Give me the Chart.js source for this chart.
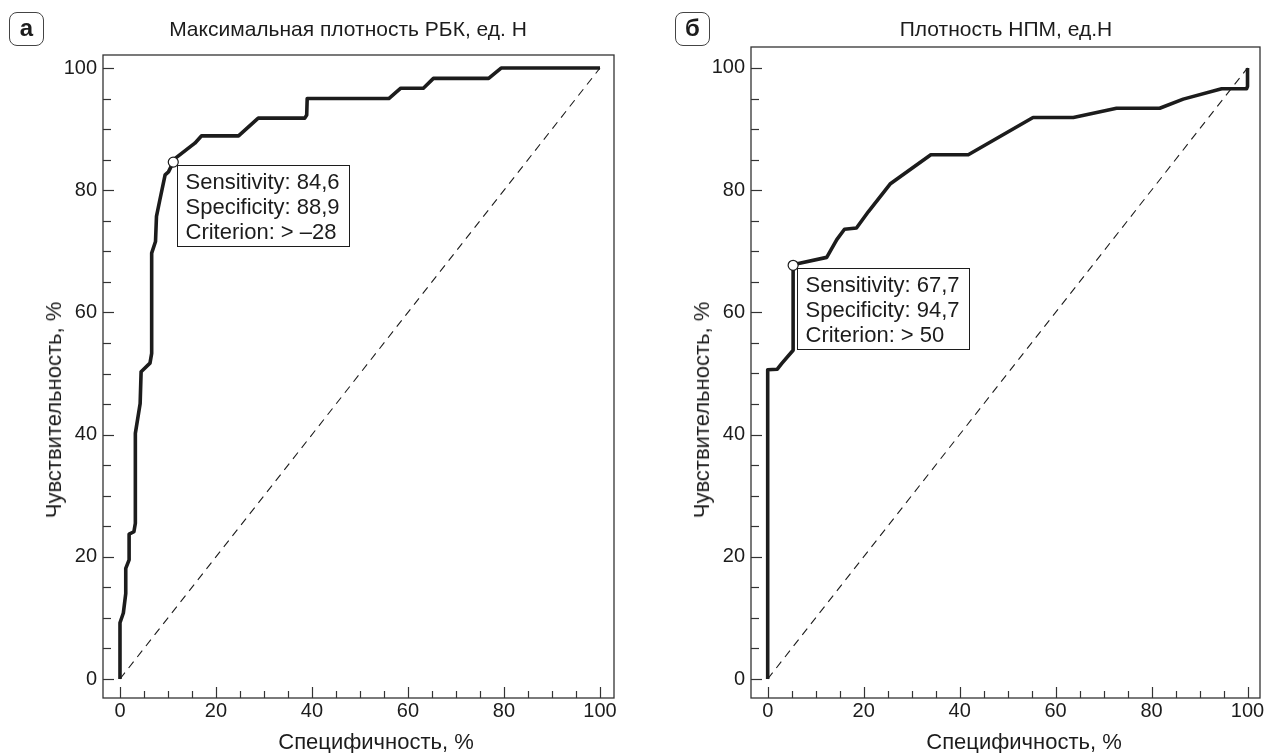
<!DOCTYPE html>
<html lang="ru">
<head>
<meta charset="utf-8">
<title>ROC</title>
<script src="https://cdn.jsdelivr.net/npm/chart.js@4.4.1/dist/chart.umd.min.js"></script>
<style>
  html, body { margin: 0; padding: 0; background: #fff; }
  body { width: 1269px; height: 753px; position: relative; overflow: hidden;
         font-family: "Liberation Sans", Arial, sans-serif; color: #1c1c1c; }
  .badge { position: absolute; top: 12px; width: 35px; height: 34px; box-sizing: border-box;
           border: 1.5px solid #444; border-radius: 8px; font-weight: bold; font-size: 24px;
           line-height: 30px; text-align: center; }
  .title { position: absolute; top: 17px; font-size: 21px; line-height: 24px; white-space: nowrap; transform: translateX(-50%); }
  .xt { position: absolute; top: 729px; font-size: 22px; line-height: 26px; white-space: nowrap; transform: translateX(-50%); }
  .yt { position: absolute; top: 410px; font-size: 22px; line-height: 26px; white-space: nowrap;
        transform: translate(-50%, -50%) rotate(-90deg); }
  .box { position: absolute; top: 0; height: 753px; }
</style>
</head>
<body>
<div class="box" style="left:0;width:634px"><canvas id="chartA"></canvas></div>
<div class="box" style="left:648px;width:621px"><canvas id="chartB"></canvas></div>
<div class="badge" style="left:9px">а</div>
<div class="title" style="left:348px">Максимальная плотность РБК, ед. Н</div>
<div class="xt" style="left:376px">Специфичность, %</div>
<div class="yt" style="left:54px">Чувствительность, %</div>
<div class="badge" style="left:675px">б</div>
<div class="title" style="left:1006px">Плотность НПМ, ед.Н</div>
<div class="xt" style="left:1024px">Специфичность, %</div>
<div class="yt" style="left:702px">Чувствительность, %</div>
<script>
// а: максимальная плотность РБК  (x = 100 - специфичность, y = чувствительность)
const aX = [0, 0, 0.7, 1.2, 1.2, 1.9, 1.9, 2.9, 3.2, 3.2, 4.2, 4.4, 6.25, 6.6, 6.6, 7.4, 7.6, 8.3, 9.4, 10.1, 11.1, 11.5, 15.6, 17, 24.7, 28.8, 38.5, 38.9, 39, 56, 58.5, 63.2, 65.3, 76.8, 79.4, 100];
const aY = [0, 9.2, 10.8, 14, 18.1, 19.5, 23.7, 24.1, 25.5, 40.2, 45.1, 50.3, 51.7, 53.3, 69.7, 71.6, 75.7, 78.4, 82.5, 83, 84.6, 85.2, 87.7, 88.9, 88.9, 91.8, 91.8, 92.3, 95, 95, 96.7, 96.7, 98.3, 98.3, 100, 100];
const aCut = { x: 11.1, y: 84.6 };
const aNote = ['Sensitivity: 84,6', 'Specificity: 88,9', 'Criterion: > –28'];

// б: плотность НПМ
const bX = [0, 0, 2.0, 2.9, 5.3, 5.3, 6.4, 12.3, 14.4, 16, 18.5, 21, 25.5, 27.6, 34, 41.8, 55.3, 63.7, 72.7, 81.7, 86.6, 94.6, 99.8, 100, 100];
const bY = [0, 50.6, 50.7, 51.6, 53.8, 67.7, 68, 69, 71.9, 73.6, 73.8, 76.5, 81, 82.2, 85.8, 85.8, 91.9, 91.9, 93.4, 93.4, 94.9, 96.6, 96.6, 97, 100];
const bCut = { x: 5.3, y: 67.7 };
const bNote = ['Sensitivity: 67,7', 'Specificity: 94,7', 'Criterion: > 50'];

const diagonal = [0, 100];

const ink = '#1c1c1c';
const family = "'Liberation Sans', Arial, sans-serif";

const isStep = (v, step) => Math.abs(v / step - Math.round(v / step)) < 1e-6;

// рамка и внутренние засечки
const frame = {
  id: 'frame',
  afterDraw(chart) {
    const { ctx, chartArea: a, scales: { x, y } } = chart;
    ctx.save();
    ctx.strokeStyle = '#333';
    ctx.lineWidth = 1.3;
    ctx.strokeRect(a.left, a.top, a.right - a.left, a.bottom - a.top);
    ctx.lineWidth = 1.2;
    x.ticks.forEach(t => {
      if (t.value < -0.01 || t.value > 100.01 || !isStep(t.value, 5)) return;
      const len = isStep(t.value, 20) ? 11 : 7;
      const p = Math.round(x.getPixelForValue(t.value)) + 0.5;
      ctx.beginPath(); ctx.moveTo(p, a.bottom); ctx.lineTo(p, a.bottom - len); ctx.stroke();
    });
    y.ticks.forEach(t => {
      if (t.value < -0.01 || t.value > 100.01 || !isStep(t.value, 5)) return;
      const len = isStep(t.value, 20) ? 11 : 8;
      const p = Math.round(y.getPixelForValue(t.value)) + 0.5;
      ctx.beginPath(); ctx.moveTo(a.left, p); ctx.lineTo(a.left + len, p); ctx.stroke();
    });
    ctx.restore();
  }
};

// подпись к точке отсечения
const note = {
  id: 'note',
  beforeDatasetsDraw(chart, args, opts) {
    const { ctx, scales: { x, y } } = chart;
    const px = x.getPixelForValue(opts.at.x), py = y.getPixelForValue(opts.at.y);
    ctx.save();
    ctx.font = '22px ' + family;
    const w = Math.round(Math.max(...opts.lines.map(t => ctx.measureText(t).width)) + 18);
    const bx = Math.round(px + 4) + 0.5, by = Math.round(py + 3) + 0.5;
    ctx.fillStyle = '#fff';
    ctx.fillRect(bx, by, w, 81);
    ctx.strokeStyle = ink;
    ctx.lineWidth = 1;
    ctx.strokeRect(bx, by, w, 81);
    ctx.fillStyle = ink;
    ctx.textBaseline = 'middle';
    opts.lines.forEach((t, i) => ctx.fillText(t, bx + 8, by + 17 + i * 25.3));
    ctx.restore();
  }
};

function makeChart(id, xs, ys, cut, lines, r) {
  const tickFont = { family: family, size: 20 };
  const label = v => isStep(v, 20) ? Math.round(v) : '';
  return new Chart(document.getElementById(id), {
    type: 'scatter',
    data: {
      datasets: [
        { data: [cut], pointRadius: 5, pointBackgroundColor: '#fff', pointBorderColor: ink, pointBorderWidth: 1.2 },
        { data: xs.map((v, i) => ({ x: v, y: ys[i] })), showLine: true, borderColor: ink, borderWidth: 3.6,
          borderJoinStyle: 'round', pointRadius: 0 },
        { data: diagonal.map(v => ({ x: v, y: v })), showLine: true, borderColor: ink, borderWidth: 1.1,
          borderDash: [8, 6], pointRadius: 0 },
      ],
    },
    options: {
      responsive: true,
      maintainAspectRatio: false,
      animation: false,
      layout: { padding: { top: r.top, right: r.right, bottom: 0, left: 0 } },
      plugins: {
        legend: { display: false },
        tooltip: { enabled: false },
        note: { at: cut, lines: lines },
      },
      scales: {
        x: {
          type: 'linear', min: r.xMin, max: r.xMax,
          grid: { display: false, drawTicks: false }, border: { display: false },
          ticks: { stepSize: 5, includeBounds: false, autoSkip: false, maxRotation: 0, padding: 1,
                   color: ink, font: tickFont, callback: label },
          afterFit: s => { s.height = 55; },
        },
        y: {
          type: 'linear', min: r.yMin, max: r.yMax,
          grid: { display: false, drawTicks: false }, border: { display: false },
          ticks: { stepSize: 5, includeBounds: false, autoSkip: false, padding: 6,
                   color: ink, font: tickFont, callback: label },
          afterFit: s => { s.width = 103; },
        },
      },
    },
    plugins: [frame, note],
  });
}

makeChart('chartA', aX, aY, aCut, aNote, { top: 55, right: 20, xMin: -3.54, xMax: 102.92, yMin: -3.11, yMax: 102.13 });
makeChart('chartB', bX, bY, bCut, bNote, { top: 47, right: 9, xMin: -3.48, xMax: 102.6, yMin: -3.11, yMax: 103.43 });
</script>
</body>
</html>
